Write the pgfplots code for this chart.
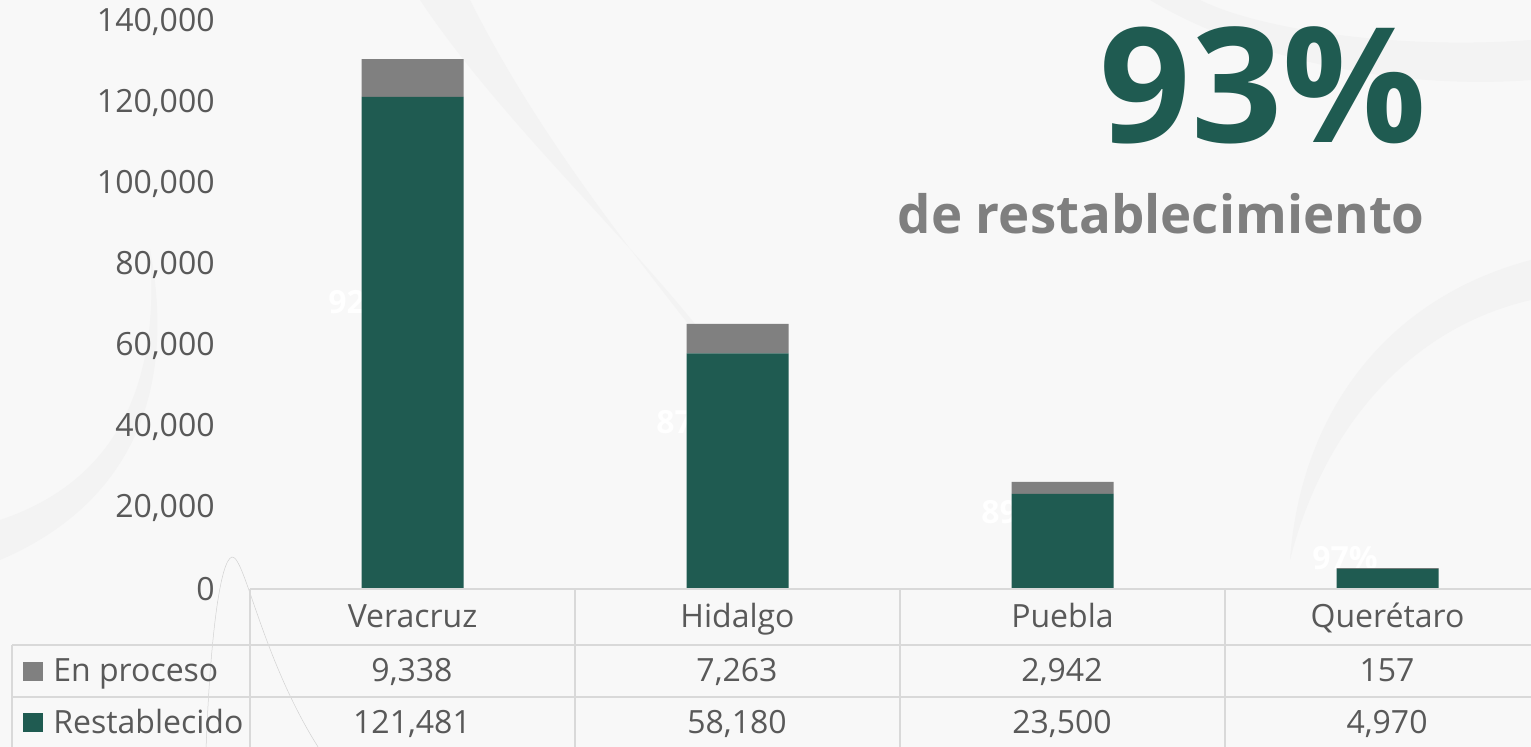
\documentclass[border=0pt]{standalone}
\usepackage{fontspec}
\setmainfont{Open Sans}
\usepackage{pgfplots}
\pgfplotsset{compat=1.18}
\definecolor{bggray}{RGB}{248,248,248}
\definecolor{wmark}{RGB}{243,243,243}
\definecolor{barg}{RGB}{31,91,81}
\definecolor{barp}{RGB}{128,128,128}
\definecolor{txt}{RGB}{89,89,89}
\definecolor{grid}{RGB}{217,217,217}
\definecolor{subt}{RGB}{127,127,127}
\begin{document}
\begin{tikzpicture}
\useasboundingbox (0,0) rectangle (765.5pt,373.5pt);
\clip (0,0) rectangle (765.5pt,373.5pt);
\fill[bggray] (0,0) rectangle (765.5pt,373.5pt);
\begin{scope}[x=0.5pt,y=-0.5pt,yshift=373.5pt]
  % faint watermark shapes
  \fill[wmark] (420,0) .. controls (520,150) and (700,300) .. (760,420) .. controls (700,330) and (560,180) .. (470,0) -- cycle;
  \fill[wmark] (1531,260) .. controls (1380,300) and (1300,420) .. (1290,560) .. controls (1320,440) and (1400,330) .. (1531,300) -- cycle;
  \fill[wmark] (0,520) .. controls (120,480) and (160,380) .. (150,250) .. controls (175,380) and (140,500) .. (0,560) -- cycle;
  \fill[wmark] (1150,0) .. controls (1250,60) and (1400,90) .. (1531,80) -- (1531,40) .. controls (1400,50) and (1260,30) .. (1200,0) -- cycle;
  \draw[gray!35, line width=0.25pt] (206,750) .. controls (210,640) and (220,560) .. (232,557) .. controls (245,556) and (262,660) .. (320,750);
  % hidden percentage labels (white, behind the bars)
  \begin{scope}[every node/.style={text=white, font=\fontsize{16}{16}\selectfont\bfseries}]
    \node at (361,302) {92\%};
    \node at (689,422) {87\%};
    \node at (1014,512) {89\%};
    \node at (1345,558) {97\%};
  \end{scope}
\end{scope}
\begin{axis}[
  at={(125pt,79pt)}, anchor=south west,
  scale only axis, width=650pt, height=283.5pt,
  xmin=-0.5, xmax=3.5, ymin=0, ymax=140000,
  ybar stacked, bar width=51pt, clip=false,
  axis line style={draw=none}, tick style={draw=none},
  xtick={0,1,2,3},
  xticklabels={Veracruz,Hidalgo,Puebla,Querétaro},
  xticklabel style={anchor=base, inner sep=0pt, yshift=-19.5pt, text=txt, font=\fontsize{16}{16}\selectfont},
  ytick={0,20000,40000,60000,80000,100000,120000,140000},
  scaled y ticks=false,
  yticklabel style={anchor=east, inner sep=0pt, xshift=-17.5pt, text=txt, font=\fontsize{16}{16}\selectfont,
    /pgf/number format/.cd, fixed, 1000 sep={,}, assume math mode=true},
]
\addplot[fill=barg, draw=none] coordinates {(0,121481) (1,58180) (2,23500) (3,4970)};
\addplot[fill=barp, draw=none] coordinates {(0,9338) (1,7263) (2,2942) (3,157)};
\end{axis}
\begin{scope}[x=0.5pt,y=-0.5pt,yshift=373.5pt]
  % table grid
  \draw[grid, line width=1pt] (250,589) -- (1560,589);
  \draw[grid, line width=1pt] (12,645) -- (1560,645);
  \draw[grid, line width=1pt] (12,697) -- (1560,697);
  \draw[grid, line width=1pt] (12,750) -- (1560,750);
  \draw[grid, line width=1pt] (12,645) -- (12,760);
  \foreach \xx in {250,575,900,1225} \draw[grid, line width=1pt] (\xx,589) -- (\xx,760);
  % legend keys
  \fill[barp] (23,662) rectangle (43,681);
  \fill[barg] (23,713) rectangle (43,732);
  \begin{scope}[every node/.style={text=txt, font=\fontsize{16}{16}\selectfont, inner sep=0pt}]
    \node[anchor=base west] at (53,682) {En proceso};
    \node[anchor=base west] at (53,734) {Restablecido};
    \node[anchor=base] at (412,682) {9,338};
    \node[anchor=base] at (737,682) {7,263};
    \node[anchor=base] at (1062,682) {2,942};
    \node[anchor=base] at (1387,682) {157};
    \node[anchor=base] at (412,734) {121,481};
    \node[anchor=base] at (737,734) {58,180};
    \node[anchor=base] at (1062,734) {23,500};
    \node[anchor=base] at (1387,734) {4,970};
  \end{scope}
  % headline
  \node[anchor=base east, inner sep=0pt, text=barg, font=\fontsize{80}{80}\selectfont\bfseries] at (1427,143) {93\%};
  \node[anchor=base east, inner sep=0pt, text=subt, font=\fontsize{26.4}{26.4}\selectfont\bfseries] at (1425,234) {de restablecimiento};
\end{scope}
\end{tikzpicture}
\end{document}
